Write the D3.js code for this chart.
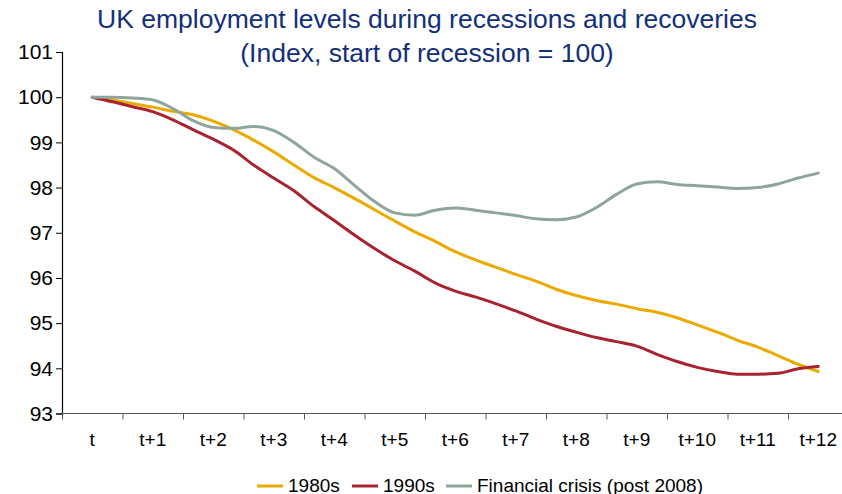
<!DOCTYPE html>
<html>
<head>
<meta charset="utf-8">
<script src="https://cdn.jsdelivr.net/npm/d3@7/dist/d3.min.js"></script>
<style>
  html, body { margin: 0; padding: 0; background: #fff; }
  svg { display: block; font-family: "Liberation Sans", Arial, sans-serif; }
</style>
</head>
<body>
<svg id="chart" width="842" height="494"></svg>
<script>
// Quarter labels along the x axis
const quarters = ["t", "t+1", "t+2", "t+3", "t+4", "t+5", "t+6", "t+7", "t+8", "t+9", "t+10", "t+11", "t+12"];
// Y axis ticks
const yTicks = [93, 94, 95, 96, 97, 98, 99, 100, 101];

// Monthly index values (start of recession = 100), 3 readings per quarter
const series1980s = [100.00, 99.94, 99.86, 99.78, 99.69, 99.61, 99.47, 99.28, 99.05, 98.79,
  98.50, 98.22, 98.00, 97.76, 97.51, 97.26, 97.02, 96.81, 96.58, 96.40,
  96.24, 96.08, 95.93, 95.75, 95.61, 95.50, 95.42, 95.32, 95.24, 95.12,
  94.96, 94.80, 94.62, 94.47, 94.28, 94.09, 93.93];
const series1990s = [100.00, 99.90, 99.79, 99.68, 99.50, 99.28, 99.07, 98.83, 98.50, 98.21,
  97.93, 97.58, 97.27, 96.95, 96.65, 96.38, 96.15, 95.89, 95.71, 95.58,
  95.43, 95.27, 95.09, 94.93, 94.80, 94.68, 94.59, 94.49, 94.31, 94.15,
  94.02, 93.93, 93.87, 93.87, 93.89, 93.99, 94.04];
const seriesCrisis = [100.00, 100.00, 99.98, 99.94, 99.75, 99.48, 99.33, 99.31, 99.35, 99.26,
  99.00, 98.67, 98.42, 98.05, 97.69, 97.44, 97.39, 97.50, 97.55, 97.50,
  97.44, 97.38, 97.31, 97.29, 97.35, 97.56, 97.85, 98.08, 98.13, 98.07,
  98.04, 98.01, 97.98, 98.00, 98.08, 98.21, 98.32];

const seriesNames = ["1980s", "1990s", "Financial crisis (post 2008)"];
const seriesColors = ["#EAAA00", "#A8232F", "#8FA59C"];
const allSeries = [series1980s, series1990s, seriesCrisis];

const svg = d3.select("#chart");
const plot = { left: 62, right: 848.5, top: 52, bottom: 413.5 };

// Category band for labels, continuous quarter scale for the monthly lines
const xBand = d3.scaleBand().domain(quarters).range([plot.left, plot.right]);
const xQ = d3.scaleLinear().domain([-0.5, quarters.length - 0.5]).range([plot.left, plot.right]);
const y = d3.scaleLinear().domain([93, 101]).range([plot.bottom, plot.top]);

// Title
const title = svg.append("text")
  .attr("x", 427).attr("text-anchor", "middle")
  .attr("fill", "#12307A").attr("font-size", 26.5);
title.append("tspan").attr("x", 427).attr("y", 28).text("UK employment levels during recessions and recoveries");
title.append("tspan").attr("x", 427).attr("y", 62).text("(Index, start of recession = 100)");

// Y axis
const yAxis = svg.append("g")
  .attr("transform", `translate(${plot.left},0)`)
  .call(d3.axisLeft(y).tickValues(yTicks).tickSize(6).tickPadding(3).tickFormat(d3.format("d")));
yAxis.select(".domain").attr("stroke", "#000").attr("stroke-width", 1.2);
yAxis.selectAll(".tick line").attr("stroke", "#000");
yAxis.selectAll(".tick text").attr("font-size", 21).attr("fill", "#000")
  .attr("font-family", "Liberation Sans, Arial, sans-serif");

// X axis: tick marks between categories, labels centred in each band
const xTickVals = d3.range(-0.5, quarters.length, 1);
const xAxis = svg.append("g")
  .attr("transform", `translate(0,${plot.bottom})`)
  .call(d3.axisBottom(xQ).tickValues(xTickVals).tickSize(6).tickFormat(""));
xAxis.select(".domain").attr("stroke", "#555").attr("stroke-width", 1.2).attr("d", `M${plot.left},0H${plot.right}`);
xAxis.selectAll(".tick line").attr("stroke", "#555");

const xLabels = svg.append("g")
  .attr("transform", `translate(0,${plot.bottom})`)
  .call(d3.axisBottom(xBand).tickSize(0).tickPadding(19));
xLabels.select(".domain").remove();
xLabels.selectAll(".tick text").attr("font-size", 19).attr("fill", "#000")
  .attr("font-family", "Liberation Sans, Arial, sans-serif");

// Lines
const line = d3.line()
  .x((d, i) => xQ(i / 3))
  .y(d => y(d))
  .curve(d3.curveMonotoneX);

svg.append("g").selectAll("path")
  .data(allSeries)
  .join("path")
  .attr("d", line)
  .attr("fill", "none")
  .attr("stroke", (d, i) => seriesColors[i])
  .attr("stroke-width", 3)
  .attr("stroke-linejoin", "round")
  .attr("stroke-linecap", "round");

// Legend
const legend = svg.append("g").attr("transform", "translate(0,485)");
const legendX = [257, 352, 446];
seriesNames.forEach((name, i) => {
  const g = legend.append("g").attr("transform", `translate(${legendX[i]},0)`);
  g.append("line").attr("x1", 0).attr("x2", 26).attr("y1", 1).attr("y2", 1)
    .attr("stroke", seriesColors[i]).attr("stroke-width", 3);
  g.append("text").attr("x", 31).attr("y", 6.5).attr("font-size", 19).attr("fill", "#000").text(name);
});
</script>
</body>
</html>
